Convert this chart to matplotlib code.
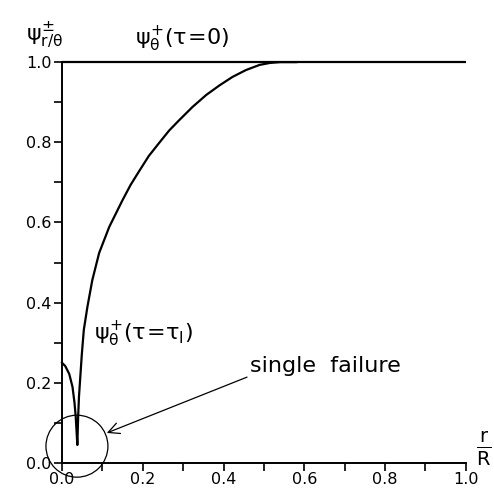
import matplotlib
matplotlib.use("Agg")
import matplotlib.pyplot as plt
from matplotlib.patches import Ellipse

plt.rcParams['font.family'] = ['DejaVu Sans']
plt.rcParams['mathtext.fontset'] = 'custom'
plt.rcParams['mathtext.rm'] = 'DejaVu Sans'
plt.rcParams['mathtext.it'] = 'DejaVu Sans'
plt.rcParams['mathtext.bf'] = 'DejaVu Sans:bold'

# tau = tau_I curve (psi_theta^+)
r_I = [0.0, 0.008, 0.018, 0.026, 0.031, 0.034, 0.036, 0.038,
       0.039, 0.040, 0.042, 0.045, 0.049, 0.054, 0.063, 0.075, 0.092, 0.117,
       0.150, 0.170, 0.191, 0.215, 0.241, 0.265, 0.290, 0.323, 0.357, 0.390, 0.422,
       0.455, 0.489, 0.515, 0.540, 0.580]
psi_I = [0.25, 0.242, 0.222, 0.19, 0.15, 0.115, 0.08, 0.045,
         0.08, 0.115, 0.165, 0.21, 0.27, 0.332, 0.39, 0.456, 0.524, 0.589,
         0.656, 0.694, 0.728, 0.766, 0.799, 0.829, 0.855, 0.888, 0.918, 0.942, 0.963,
         0.980, 0.993, 0.998, 1.0, 1.0]

# tau = 0 line
r_0 = [0.0, 1.0]
psi_0 = [1.0, 1.0]

xticks_major = [0.0, 0.2, 0.4, 0.6, 0.8, 1.0]
yticks_major = [0.0, 0.2, 0.4, 0.6, 0.8, 1.0]

fig = plt.figure(figsize=(4.94, 5.01), dpi=100)
ax = fig.add_axes([0.1255, 0.0758, 0.8175, 0.8002])

ax.plot(r_0, psi_0, color='black', lw=1.6, solid_capstyle='butt', clip_on=False)
ax.plot(r_I, psi_I, color='black', lw=1.6, clip_on=False)

ax.set_xlim(0, 1.0)
ax.set_ylim(0, 1.0)
ax.spines['top'].set_visible(False)
ax.spines['right'].set_visible(False)
ax.spines['left'].set_linewidth(1.4)
ax.spines['bottom'].set_linewidth(1.4)

ax.set_xticks(xticks_major)
ax.set_yticks(yticks_major)
ax.set_xticklabels([f"{v:.1f}" for v in xticks_major])
ax.set_yticklabels([f"{v:.1f}" for v in yticks_major])
ax.set_xticks([0.1, 0.3, 0.5, 0.7, 0.9], minor=True)
ax.set_yticks([0.1, 0.3, 0.5, 0.7, 0.9], minor=True)
ax.tick_params(which='both', direction='out', length=5.5, width=1.2, labelsize=11.5)
ax.tick_params(axis='x', pad=1)
ax.tick_params(axis='y', pad=2)

# circle marking the failure
circ = Ellipse((0.037, 0.042), width=62/404, height=62/401, fill=False,
               edgecolor='black', lw=0.9, clip_on=False)
ax.add_patch(circ)

ax.annotate('single  failure', xy=(0.111, 0.075), xytext=(0.465, 0.227),
            fontsize=16, ha='left', va='baseline',
            arrowprops=dict(arrowstyle='->', color='black', lw=0.9,
                            mutation_scale=20, shrinkA=0, shrinkB=0,
                            relpos=(0.0, 0.0)))

ax.text(0.18, 1.02, r'$\psi^{+}_{\theta}(\tau\!=\!0)$', fontsize=16, ha='left', va='bottom')
ax.text(-0.09, 1.03, r'$\psi^{\pm}_{r/\theta}$', fontsize=16, ha='left', va='bottom')
ax.text(0.08, 0.32, r'$\psi^{+}_{\theta}(\tau\!=\!\tau_{\mathrm{I}})$', fontsize=16, ha='left', va='center')
ax.text(1.045, 0.035, r'$\frac{r}{R}$', fontsize=20, ha='center', va='center')

fig.savefig('out.png', dpi=100)
